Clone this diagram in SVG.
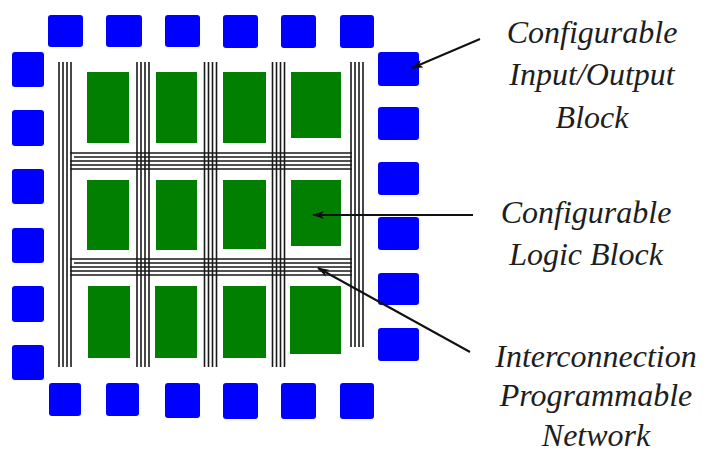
<svg xmlns="http://www.w3.org/2000/svg" width="708" height="454" viewBox="0 0 708 454">
<style>
.io{fill:#0000ff}
.clb{fill:#007f00}
.w{stroke:#1a1a1a;stroke-width:1.6;fill:none}
.arr{stroke:#111;stroke-width:2;fill:none;marker-end:url(#ah)}
.lbl{font-family:"Liberation Serif","Times New Roman",serif;font-style:italic;font-size:32px;fill:#1e1e1e;text-anchor:middle}
</style>
<defs>
<marker id="ah" viewBox="0 0 12 8" refX="11" refY="4" markerWidth="12" markerHeight="8" markerUnits="userSpaceOnUse" orient="auto">
<path d="M0,0 L12,4 L0,8 L3,4 Z" fill="#111"/>
</marker>
<path id="vb" class="w" d="M0,0V305M4,0V305M8,0V305M12,0V305"/>
<path id="hb" class="w" d="M0,0H282M4,4H282M0,8H282M0,12H282M0,16H282"/>
</defs>
<rect width="708" height="454" fill="#fff"/>
<g id="routing">
<use href="#vb" x="59" y="62"/>
<use href="#vb" x="137" y="62"/>
<use href="#vb" x="204.5" y="62"/>
<use href="#vb" x="272.5" y="62"/>
<path class="w" d="M351,62V347M355,62V347M359,62V347M363,62V347"/>
<use href="#hb" x="70" y="153"/>
<use href="#hb" x="70" y="259"/>
</g>
<g id="clbs">
<rect class="clb" x="87" y="72" width="42" height="71"/>
<rect class="clb" x="156" y="72" width="41" height="71"/>
<rect class="clb" x="223" y="72" width="43" height="71"/>
<rect class="clb" x="291" y="72" width="50" height="66"/>
<rect class="clb" x="87" y="180" width="42" height="70"/>
<rect class="clb" x="156" y="180" width="41" height="70"/>
<rect class="clb" x="223" y="180" width="43" height="69"/>
<rect class="clb" x="291" y="180" width="50" height="66"/>
<rect class="clb" x="88" y="286" width="42" height="72"/>
<rect class="clb" x="155" y="286" width="42" height="72"/>
<rect class="clb" x="223" y="286" width="43" height="72"/>
<rect class="clb" x="290" y="286" width="51" height="68"/>
</g>
<g id="iobs">
<rect class="io" x="48" y="15" width="35" height="32" rx="3"/>
<rect class="io" x="106" y="15" width="36" height="32" rx="3"/>
<rect class="io" x="165" y="15" width="35" height="32" rx="3"/>
<rect class="io" x="223" y="15" width="35" height="33" rx="3"/>
<rect class="io" x="281" y="15" width="35" height="33" rx="3"/>
<rect class="io" x="340" y="15" width="34" height="33" rx="3"/>
<rect class="io" x="12" y="52" width="32" height="35" rx="3"/>
<rect class="io" x="12" y="110" width="32" height="36" rx="3"/>
<rect class="io" x="12" y="169" width="32" height="35" rx="3"/>
<rect class="io" x="12" y="228" width="32" height="35" rx="3"/>
<rect class="io" x="12" y="286" width="32" height="36" rx="3"/>
<rect class="io" x="12" y="345" width="32" height="35" rx="3"/>
<rect class="io" x="378" y="52" width="41" height="34" rx="3"/>
<rect class="io" x="378" y="107" width="41" height="33" rx="3"/>
<rect class="io" x="378" y="162" width="41" height="33" rx="3"/>
<rect class="io" x="378" y="217" width="41" height="33" rx="3"/>
<rect class="io" x="378" y="273" width="41" height="32" rx="3"/>
<rect class="io" x="378" y="328" width="41" height="33" rx="3"/>
<rect class="io" x="49" y="383" width="32" height="33" rx="3"/>
<rect class="io" x="106" y="383" width="33" height="33" rx="3"/>
<rect class="io" x="165" y="383" width="35" height="35" rx="3"/>
<rect class="io" x="223" y="383" width="35" height="36" rx="3"/>
<rect class="io" x="281" y="383" width="35" height="36" rx="3"/>
<rect class="io" x="340" y="383" width="34" height="36" rx="3"/>
</g>
<g id="connectors">
<line class="arr" x1="480" y1="39" x2="412" y2="68"/>
<line class="arr" x1="473" y1="215" x2="313" y2="215"/>
<line class="arr" x1="470" y1="352" x2="318" y2="268"/>
</g>
<g id="label-iob">
<text class="lbl" x="592" y="43">Configurable</text>
<text class="lbl" x="592" y="85">Input/Output</text>
<text class="lbl" x="592" y="128">Block</text>
</g>
<g id="label-clb">
<text class="lbl" x="586" y="223">Configurable</text>
<text class="lbl" x="586" y="265">Logic Block</text>
</g>
<g id="label-ipn">
<text class="lbl" x="596" y="367">Interconnection</text>
<text class="lbl" x="596" y="406">Programmable</text>
<text class="lbl" x="596" y="446">Network</text>
</g>
</svg>
